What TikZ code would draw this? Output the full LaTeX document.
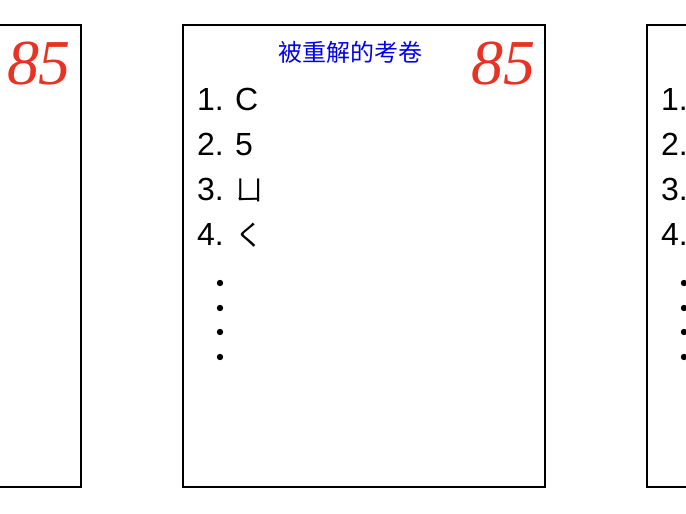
\documentclass[tikz,border=0pt]{standalone}
\usepackage{fontspec}
\setmainfont{Liberation Sans}
\newfontfamily\cjk{Noto Sans CJK SC}
\newfontfamily\scorefont{Liberation Serif}
\definecolor{scorered}{RGB}{232,50,36}
\definecolor{titleblue}{RGB}{0,0,235}

\begin{document}
\begin{tikzpicture}
  [x=1pt,y=-1pt,every node/.style={inner sep=0pt,anchor=base west},
   paper/.style={draw,line width=1.3pt},
   answer/.style={font=\fontsize{32}{36}\selectfont},
   kana/.style={font=\cjk\fontsize{28}{32}\selectfont},
   title/.style={font=\cjk\fontsize{24}{27}\selectfont,text=titleblue,anchor=base},
   score/.style={font=\scorefont\itshape\fontsize{64}{70}\selectfont,text=scorered,anchor=base}]
  \useasboundingbox (0,0) rectangle (686,514);
  \clip (0,0) rectangle (686,514);
  % left paper, only its right part shows
  \draw[paper] (-281,25) rectangle (81,487);
  \node[score] (l-score) at (39,84) {85};
  % middle paper
  \draw[paper] (183,25) rectangle (545,487);
  \node[title] (c-title) at (350,61) {被重解的考卷};
  \node[score] (c-score) at (503,84) {85};
  \foreach \i/\ans/\st/\y in {1/C/answer/110,2/5/answer/155,3/ㄩ/kana/200,4/く/kana/245}{
    \node[answer] (c-n\i) at (197,\y) {\i.};
    \node[\st] (c-a\i) at (235,\y) {\ans};
  }
  \foreach \y in {283,308,332,357}
    \fill (220,\y) circle (3.2);
  % right paper, only its left part shows
  \draw[paper] (647,25) rectangle (1009,487);
  \foreach \i/\y in {1/110,2/155,3/200,4/245}
    \node[answer] (r-n\i) at (661,\y) {\i.};
  \foreach \y in {283,308,332,357}
    \fill (684,\y) circle (3.2);
\end{tikzpicture}
\end{document}
